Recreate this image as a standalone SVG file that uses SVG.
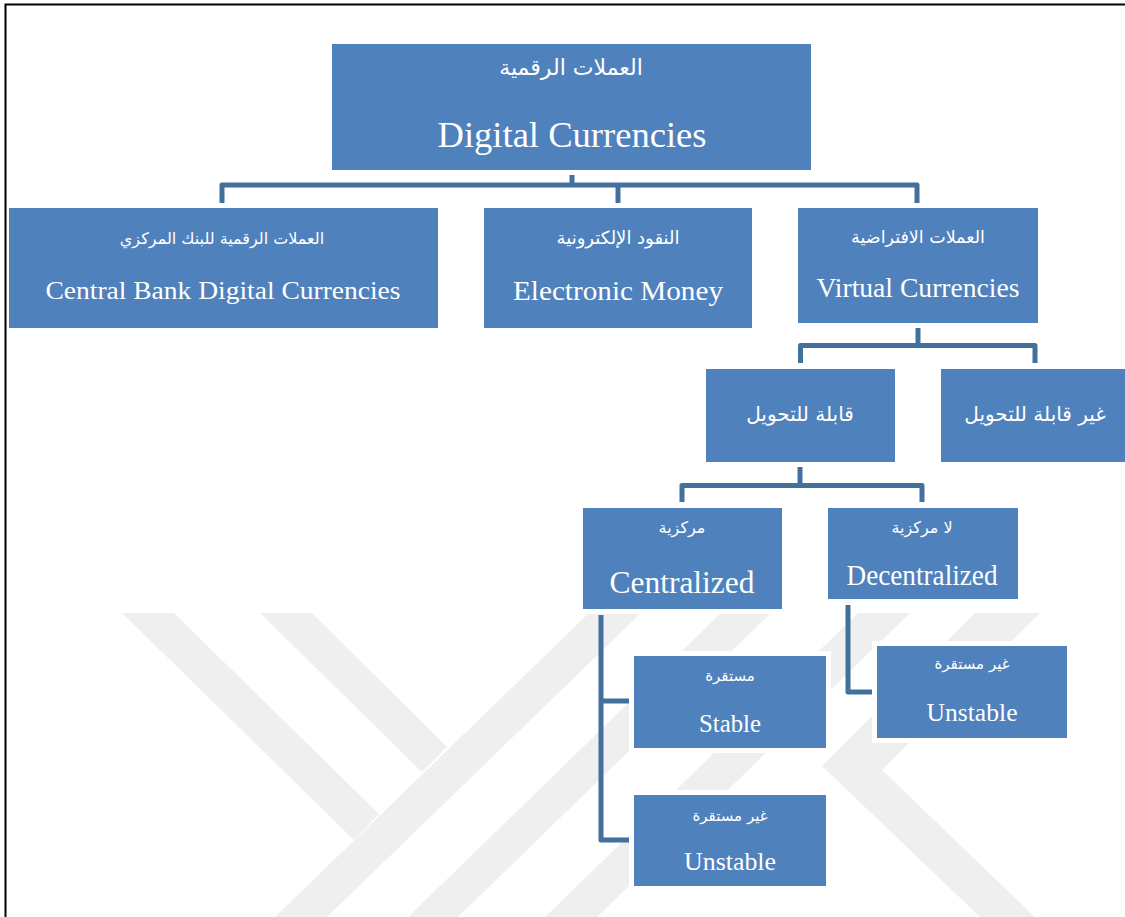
<svg xmlns="http://www.w3.org/2000/svg" width="1125" height="917" viewBox="0 0 1125 917">
  <defs>
    <style>
      .box { fill: #4f81bd; stroke: #ffffff; stroke-width: 10; paint-order: stroke; }
      .ar { font-family: "DejaVu Sans", sans-serif; fill: #ffffff; text-anchor: middle; }
      .en { font-family: "Liberation Serif", serif; fill: #ffffff; text-anchor: middle; }
      .conn { fill: none; stroke: #41719c; stroke-width: 5; stroke-linejoin: round; }
      .wm { fill: #efefef; }
    </style>
    <clipPath id="wmclip">
      <rect x="0" y="613" width="1125" height="304"/>
    </clipPath>
  </defs>
  <rect width="1125" height="917" fill="#ffffff"/>

  <g id="watermark" clip-path="url(#wmclip)">
    <polygon class="wm" points="122,613 174,613 379,814 354,840"/>
    <polygon class="wm" points="260,613 312,613 447,747 422,772"/>
    <polygon class="wm" points="275,917 327,917 641,613 589,613"/>
    <polygon class="wm" points="408,917 458,917 771,613 721,613"/>
    <polygon class="wm" points="545,917 597,917 910,613 858,613"/>
    <polygon class="wm" points="975,613 1040,613 882,770 1035,917 980,917 822,766"/>
  </g>

  <g id="connectors">
    <path class="conn" d="M572,175 V185"/>
    <path class="conn" d="M222,203 V185 H917 V203"/>
    <path class="conn" d="M618,185 V203"/>
    <path class="conn" d="M918,328 V345.5"/>
    <path class="conn" d="M800.5,363 V345.5 H1035 V363"/>
    <path class="conn" d="M800,467 V485.5"/>
    <path class="conn" d="M682,502 V485.5 H922 V502"/>
    <path class="conn" d="M601,615 V840 H629"/>
    <path class="conn" d="M601,701 H629"/>
    <path class="conn" d="M848,605 V692 H875"/>
  </g>

  <g id="node-digital">
    <rect class="box" x="332" y="44" width="479" height="126"/>
    <text class="ar" x="571" y="75" font-size="22">العملات الرقمية</text>
    <text class="en" x="572" y="147" font-size="36" textLength="269" lengthAdjust="spacingAndGlyphs">Digital Currencies</text>
  </g>

  <g id="node-cbdc">
    <rect class="box" x="9" y="208" width="429" height="120"/>
    <text class="ar" x="222" y="244" font-size="16">العملات الرقمية للبنك المركزي</text>
    <text class="en" x="223" y="299" font-size="26" textLength="355" lengthAdjust="spacingAndGlyphs">Central Bank Digital Currencies</text>
  </g>

  <g id="node-emoney">
    <rect class="box" x="484" y="208" width="268" height="120"/>
    <text class="ar" x="618" y="244" font-size="18">النقود الإلكترونية</text>
    <text class="en" x="618" y="300" font-size="28" textLength="210" lengthAdjust="spacingAndGlyphs">Electronic Money</text>
  </g>

  <g id="node-virtual">
    <rect class="box" x="798" y="208" width="240" height="115"/>
    <text class="ar" x="918" y="243" font-size="17.5">العملات الافتراضية</text>
    <text class="en" x="918" y="297" font-size="27" textLength="203" lengthAdjust="spacingAndGlyphs">Virtual Currencies</text>
  </g>

  <g id="node-convertible">
    <rect class="box" x="706" y="369" width="189" height="93"/>
    <text class="ar" x="800" y="421" font-size="20">قابلة للتحويل</text>
  </g>

  <g id="node-nonconvertible">
    <rect class="box" x="941" y="369" width="189" height="93"/>
    <text class="ar" x="1035" y="421" font-size="20">غير قابلة للتحويل</text>
  </g>

  <g id="node-centralized">
    <rect class="box" x="583" y="508" width="199" height="101"/>
    <text class="ar" x="682" y="533" font-size="16">مركزية</text>
    <text class="en" x="682" y="593" font-size="31" textLength="145" lengthAdjust="spacingAndGlyphs">Centralized</text>
  </g>

  <g id="node-decentralized">
    <rect class="box" x="828" y="508" width="190" height="91"/>
    <text class="ar" x="922" y="533" font-size="16">لا مركزية</text>
    <text class="en" x="922" y="585" font-size="29" textLength="151" lengthAdjust="spacingAndGlyphs">Decentralized</text>
  </g>

  <g id="node-stable">
    <rect class="box" x="634" y="656" width="192" height="92"/>
    <text class="ar" x="730" y="681" font-size="15">مستقرة</text>
    <text class="en" x="730" y="732" font-size="26" textLength="62" lengthAdjust="spacingAndGlyphs">Stable</text>
  </g>

  <g id="node-unstable-c">
    <rect class="box" x="634" y="795" width="192" height="91"/>
    <text class="ar" x="730" y="821" font-size="15">غير مستقرة</text>
    <text class="en" x="730" y="870" font-size="26" textLength="92" lengthAdjust="spacingAndGlyphs">Unstable</text>
  </g>

  <g id="node-unstable-d">
    <rect class="box" x="877" y="646" width="190" height="92"/>
    <text class="ar" x="972" y="669" font-size="15">غير مستقرة</text>
    <text class="en" x="972" y="721" font-size="26" textLength="91" lengthAdjust="spacingAndGlyphs">Unstable</text>
  </g>

  <path id="frame" d="M5.5,917 V4.5 H1125" fill="none" stroke="#000000" stroke-width="2"/>
</svg>
